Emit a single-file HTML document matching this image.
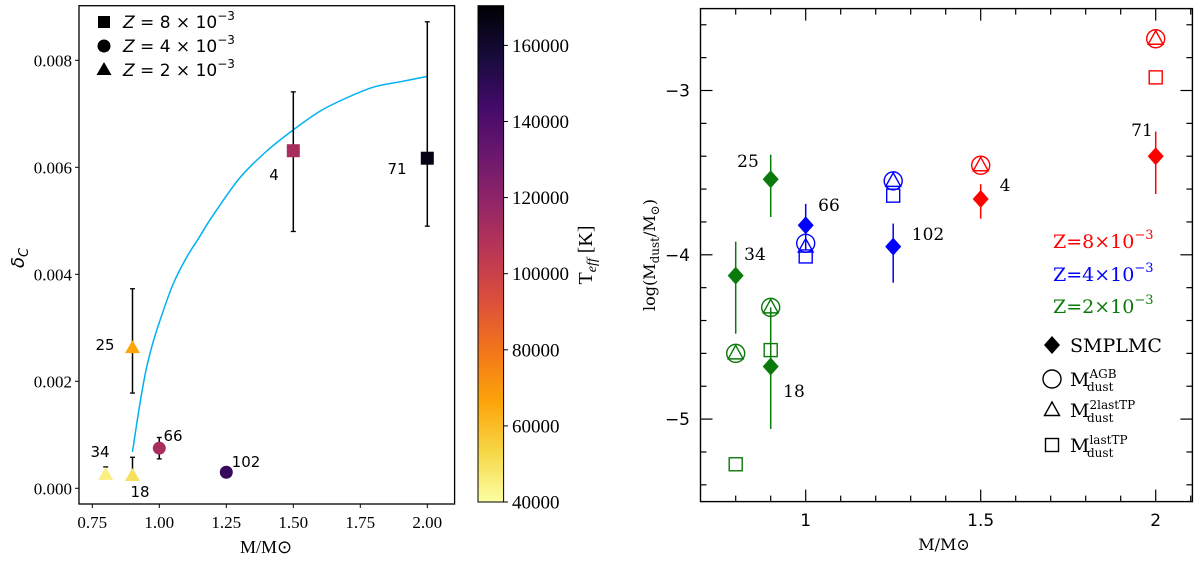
<!DOCTYPE html>
<html><head><meta charset="utf-8"><style>
html,body{margin:0;padding:0;background:#fff;}
svg{display:block;}
</style></head><body>
<svg id="fig" width="1200" height="562" viewBox="0 0 1200 562" xmlns="http://www.w3.org/2000/svg">
<defs>
<linearGradient id="inferno" x1="0" y1="1" x2="0" y2="0">
<stop offset="0" stop-color="#fcffa4"/><stop offset="0.1" stop-color="#f6d746"/>
<stop offset="0.2" stop-color="#fca50a"/><stop offset="0.3" stop-color="#f37819"/>
<stop offset="0.4" stop-color="#dd513a"/><stop offset="0.5" stop-color="#bc3754"/>
<stop offset="0.6" stop-color="#932667"/><stop offset="0.7" stop-color="#6a176e"/>
<stop offset="0.8" stop-color="#420a68"/><stop offset="0.9" stop-color="#160b39"/>
<stop offset="1" stop-color="#000004"/></linearGradient>
</defs>
<g id="left"></g>
<g id="right"></g>
</svg>
<script>
// ---------- LEFT CHART DATA ----------
const leftIds = ["71","4","25","66","102","34","18"];
const leftMass = [2.0,1.5,0.9,1.0,1.25,0.8,0.9];
const leftDelta = [0.00617,0.00631,0.00262,0.00075,0.0003,0.00025,0.00023];
const leftErrLo = [0.0049,0.0048,0.00178,0.00055,null,null,null];
const leftErrHi = [0.00872,0.00741,0.00373,0.00095,null,0.0004,0.00058];
const leftShape = ["square","square","triangle","circle","circle","triangle","triangle"];
const leftTeff = [167000,112000,66000,112000,148000,45000,50000];
const leftXTicks = [0.75,1.0,1.25,1.5,1.75,2.0];
const leftXTickLabels = ["0.75","1.00","1.25","1.50","1.75","2.00"];
const leftYTicks = [0,0.002,0.004,0.006,0.008];
const leftYTickLabels = ["0.000","0.002","0.004","0.006","0.008"];
const fitMass = [0.9,0.925,0.95,0.975,1.0,1.05,1.1,1.15,1.2,1.3,1.4,1.5,1.6,1.7,1.8,1.9,2.0];
const fitDelta = [0.00068,0.0015,0.0022,0.0027,0.0031,0.0038,0.0043,0.0047,0.0051,0.0058,0.0063,0.0067,0.00705,0.0073,0.0075,0.0076,0.0077];
const cbTicks = [40000,60000,80000,100000,120000,140000,160000];
// ---------- RIGHT CHART DATA ----------
const rMass = [0.8,0.9,0.9,1.0,1.25,1.5,2.0];
const rIds = ["34","25","18","66","102","4","71"];
const rZ = ["g","g","g","b","b","r","r"];
const rObs = [-4.127,-3.54,-4.68,-3.82,-3.95,-3.66,-3.40];
const rObsLo = [-4.48,-3.77,-5.06,-3.97,-4.17,-3.78,-3.63];
const rObsHi = [-3.92,-3.39,-4.32,-3.69,-3.81,-3.57,-3.25];
const modMass = [0.8,0.9,1.0,1.25,1.5,2.0];
const modZ = ["g","g","b","b","r","r"];
const modAGB = [-4.60,-4.32,-3.93,-3.55,-3.455,-2.685];
const mod2last = [-4.60,-4.32,-3.95,-3.55,-3.455,-2.685];
const modLast = [null,-4.58,-4.01,-3.64,null,-2.92];
const modLast08 = -5.275;
const rXTicks = [1,1.5,2];
const rXTickLabels = ["1","1.5","2"];
const rYTicks = [-3,-4,-5];
const rYTickLabels = ["\u22123","\u22124","\u22125"];

const NS="http://www.w3.org/2000/svg";
function mk(parent,tag,attrs,text){const e=document.createElementNS(NS,tag);for(const k in attrs)e.setAttribute(k,attrs[k]);if(text!==undefined)e.textContent=text;parent.appendChild(e);return e;}

// LEFT
const L=document.getElementById('left');
const xL=m=>92.3+(m-0.75)*268;
const yL=v=>488.3-v*53500;
const cbY=t=>502-(t-40000)/20000*76.1;
function inferno(t){
  const stops=[[0,[252,255,164]],[0.1,[246,215,70]],[0.2,[252,165,10]],[0.3,[243,120,25]],[0.4,[221,81,58]],[0.5,[188,55,84]],[0.6,[147,38,103]],[0.7,[106,23,110]],[0.8,[66,10,104]],[0.9,[22,11,57]],[1,[0,0,4]]];
  const f=Math.max(0,Math.min(1,(t-40000)/131000));
  for(let i=1;i<stops.length;i++){if(f<=stops[i][0]){const a=stops[i-1],b=stops[i];const u=(f-a[0])/(b[0]-a[0]);return 'rgb('+a[1].map((c,j)=>Math.round(c+(b[1][j]-c)*u)).join(',')+')';}}
  return 'rgb(0,0,4)';
}
let e;
e=mk(L,'rect',{x:79,y:5.7,width:375.6,height:498.3,fill:'none',stroke:'#000','stroke-width':1.3});


leftXTicks.forEach((t,i)=>{
  mk(L,'line',{x1:xL(t),x2:xL(t),y1:504,y2:508,stroke:'#000'});
  e=mk(L,'text',{x:xL(t),y:528,'text-anchor':'middle','font-family':'Liberation Serif, serif','font-size':17},leftXTickLabels[i]);
  
  
});
leftYTicks.forEach((t,i)=>{
  mk(L,'line',{x1:75,x2:79,y1:yL(t),y2:yL(t),stroke:'#000'});
  e=mk(L,'text',{x:72,y:yL(t)+6,'text-anchor':'end','font-family':'Liberation Serif, serif','font-size':17},leftYTickLabels[i]);
  
  
});
e=mk(L,'text',{x:266,y:553,'text-anchor':'middle','font-family':'Liberation Serif, serif','font-size':18},'M/M\u2299');


e=mk(L,'text',{x:0,y:0,transform:'translate(24,258) rotate(-90)','text-anchor':'middle','font-family':'DejaVu Sans, sans-serif','font-size':18,'font-style':'italic'});
e.innerHTML='δ<tspan font-size="13" dy="4">C</tspan>';


// fit curve (smooth)
(function(){
  const P=fitMass.map((m,i)=>[xL(m),yL(fitDelta[i])]);
  let d='M'+P[0][0]+','+P[0][1];
  for(let i=0;i<P.length-1;i++){
    const p0=P[Math.max(0,i-1)],p1=P[i],p2=P[i+1],p3=P[Math.min(P.length-1,i+2)];
    const c1=[p1[0]+(p2[0]-p0[0])/6,p1[1]+(p2[1]-p0[1])/6],c2=[p2[0]-(p3[0]-p1[0])/6,p2[1]-(p3[1]-p1[1])/6];
    d+=` C${c1[0]},${c1[1]} ${c2[0]},${c2[1]} ${p2[0]},${p2[1]}`;
  }
  e=mk(L,'path',{d:d,fill:'none',stroke:'#00b0f0','stroke-width':1.5});
  
  
})();
// points
leftIds.forEach((id,i)=>{
  const cx=xL(leftMass[i]),cy=yL(leftDelta[i]);
  if(leftErrHi[i]!==null){
    const lo=leftErrLo[i]!==null?leftErrLo[i]:leftDelta[i];
    mk(L,'line',{x1:cx,x2:cx,y1:yL(lo),y2:yL(leftErrHi[i]),stroke:'#000','stroke-width':1.5});
    mk(L,'line',{x1:cx-2.5,x2:cx+2.5,y1:yL(leftErrHi[i]),y2:yL(leftErrHi[i]),stroke:'#000','stroke-width':1.3});
    if(leftErrLo[i]!==null) mk(L,'line',{x1:cx-2.5,x2:cx+2.5,y1:yL(lo),y2:yL(lo),stroke:'#000','stroke-width':1.3});
  }
  const c=inferno(leftTeff[i]);let m;
  if(leftShape[i]==='square') m=mk(L,'rect',{x:cx-6.5,y:cy-6.5,width:13,height:13,fill:c});
  else if(leftShape[i]==='circle') m=mk(L,'circle',{cx:cx,cy:cy,r:6.5,fill:c});
  else m=mk(L,'polygon',{points:`${cx},${cy-8} ${cx-7.5},${cy+5} ${cx+7.5},${cy+5}`,fill:c});
  
  
});
const leftLabelPos={"71":[397,174],"4":[274,180],"25":[105,350],"66":[173,441],"102":[246,467],"34":[100,457],"18":[140,497]};
for(const id in leftLabelPos){
  e=mk(L,'text',{x:leftLabelPos[id][0],y:leftLabelPos[id][1],'text-anchor':'middle','font-family':'DejaVu Sans, sans-serif','font-size':15},id);
  
  
}
// legend
const legY=[22,46,70],legT=['8','4','2'];
legY.forEach((y,i)=>{
  let m;
  if(i===0) m=mk(L,'rect',{x:98,y:y-6,width:12,height:12,fill:'#000'});
  else if(i===1) m=mk(L,'circle',{cx:104,cy:y,r:6.5,fill:'#000'});
  else m=mk(L,'polygon',{points:`104,${y-8} 96.5,${y+5} 111.5,${y+5}`,fill:'#000'});
  
  
  e=mk(L,'text',{x:123,y:y+6,'font-family':'DejaVu Sans, sans-serif','font-size':17});
  e.innerHTML=`<tspan font-style="italic">Z</tspan> = ${legT[i]} × 10<tspan font-size="12" dy="-8">−3</tspan>`;
  
  
});
// colorbar
e=mk(L,'rect',{x:478,y:5.7,width:25.6,height:496.3,fill:'url(#inferno)',stroke:'#000','stroke-width':1});


cbTicks.forEach(t=>{
  mk(L,'line',{x1:503.6,x2:508,y1:cbY(t),y2:cbY(t),stroke:'#000'});
  e=mk(L,'text',{x:512,y:cbY(t)+6.5,'font-family':'Liberation Serif, serif','font-size':19},String(t));
  
  
});
e=mk(L,'text',{x:0,y:0,transform:'translate(592,255) rotate(-90)','text-anchor':'middle','font-family':'Liberation Serif, serif','font-size':20});
e.innerHTML='T<tspan font-size="14" dy="4" font-style="italic">eff</tspan><tspan dy="-4"> [K]</tspan>';



// RIGHT
const R=document.getElementById('right');
const xR=m=>805.7+(m-1)*350;
const yR=v=>90.5+(-3-v)*164.3;
const COL={g:'#0a7a0a',b:'#0000ff',r:'#ff0000'};
e=mk(R,'rect',{x:700.5,y:8.6,width:491.9,height:493,fill:'none',stroke:'#000','stroke-width':1.4});


for(let k=0;k<=14;k++){const m=0.7+k*0.1;const x=xR(m);if(x<701||x>1192)continue;const major=Math.abs(m*2-Math.round(m*2))<1e-6;const len=major?12:6;
  mk(R,'line',{x1:x,x2:x,y1:501.6,y2:501.6-len,stroke:'#000','stroke-width':1.2});
  mk(R,'line',{x1:x,x2:x,y1:8.6,y2:8.6+len,stroke:'#000','stroke-width':1.2});}
for(let k=0;k<=15;k++){const v=-5.4+k*0.2;const y=yR(v);if(y<9||y>501)continue;const major=Math.abs(v-Math.round(v))<1e-6;const len=major?12:6;
  mk(R,'line',{x1:700.5,x2:700.5+len,y1:y,y2:y,stroke:'#000','stroke-width':1.2});
  mk(R,'line',{x1:1192.4,x2:1192.4-len,y1:y,y2:y,stroke:'#000','stroke-width':1.2});}
rXTicks.forEach((t,i)=>{
  e=mk(R,'text',{x:xR(t),y:526,'text-anchor':'middle','font-family':'DejaVu Sans, sans-serif','font-size':17},rXTickLabels[i]);
  
  
});
rYTicks.forEach((t,i)=>{
  e=mk(R,'text',{x:690,y:yR(t)+6,'text-anchor':'end','font-family':'DejaVu Sans, sans-serif','font-size':17},rYTickLabels[i]);
  
  
});
e=mk(R,'text',{x:944,y:550,'text-anchor':'middle','font-family':'DejaVu Serif, serif','font-size':16},'M/M\u2299');


e=mk(R,'text',{x:0,y:0,transform:'translate(655,255) rotate(-90)','text-anchor':'middle','font-family':'DejaVu Serif, serif','font-size':16});
e.innerHTML='log(M<tspan font-size="12" dy="4">dust</tspan><tspan dy="-4">/M</tspan><tspan font-size="12" dy="4">⊙</tspan><tspan dy="-4">)</tspan>';


function diamond(p,cx,cy,c){return mk(p,'polygon',{points:`${cx},${cy-9} ${cx+8},${cy} ${cx},${cy+9} ${cx-8},${cy}`,fill:c});}
function openCircle(p,cx,cy,c){return mk(p,'circle',{cx:cx,cy:cy,r:9,fill:'none',stroke:c,'stroke-width':1.4});}
function openTri(p,cx,cy,c){return mk(p,'polygon',{points:`${cx},${cy-8} ${cx-7.5},${cy+5.5} ${cx+7.5},${cy+5.5}`,fill:'none',stroke:c,'stroke-width':1.4});}
function openSq(p,cx,cy,c){return mk(p,'rect',{x:cx-6.5,y:cy-6.5,width:13,height:13,fill:'none',stroke:c,'stroke-width':1.4});}
// models
modMass.forEach((m,i)=>{
  const c=COL[modZ[i]],cx=xR(m);
  e=openCircle(R,cx,yR(modAGB[i]),c);
  
  
  e=openTri(R,cx,yR(mod2last[i]),c);
  
  
  if(modLast[i]!==null){e=openSq(R,cx,yR(modLast[i]),c);
  
  }
});
e=openSq(R,xR(0.8),yR(modLast08),COL.g);


// observations
rMass.forEach((m,i)=>{
  const c=COL[rZ[i]],cx=xR(m);
  mk(R,'line',{x1:cx,x2:cx,y1:yR(rObsLo[i]),y2:yR(rObsHi[i]),stroke:c,'stroke-width':1.5});
  e=diamond(R,cx,yR(rObs[i]),c);
  
  
});
const rLabelPos={"25":[748,167],"66":[829,211],"34":[755,260],"18":[794,397],"102":[928,240],"4":[1005,191],"71":[1142,136]};
for(const id in rLabelPos){
  e=mk(R,'text',{x:rLabelPos[id][0],y:rLabelPos[id][1],'text-anchor':'middle','font-family':'DejaVu Serif, serif','font-size':17},id);
  
  
}
// legend
[['8','r',248],['4','b',281],['2','g',313]].forEach(a=>{
  e=mk(R,'text',{x:1053,y:a[2],'font-family':'DejaVu Serif, serif','font-size':19,fill:COL[a[1]]});
  e.innerHTML=`Z=${a[0]}×10<tspan font-size="13" dy="-9">−3</tspan>`;
  
  
});
e=diamond(R,1052,345,'#000');


e=mk(R,'text',{x:1070,y:352,'font-family':'DejaVu Serif, serif','font-size':19},'SMPLMC');


const mlab=[['AGB',379,openCircle],['2lastTP',410,openTri],['lastTP',445,openSq]];
mlab.forEach(a=>{
  e=a[2](R,1052,a[1],'#000');
  
  
  e=mk(R,'text',{x:1070,y:a[1]+7,'font-family':'DejaVu Serif, serif','font-size':19});
  e.innerHTML=`M<tspan font-size="12" dy="-8">${a[0]}</tspan>`;
  
  
  e=mk(R,'text',{x:1087,y:a[1]+12,'font-family':'DejaVu Serif, serif','font-size':12},'dust');
  
  
});
</script>
</body></html>
